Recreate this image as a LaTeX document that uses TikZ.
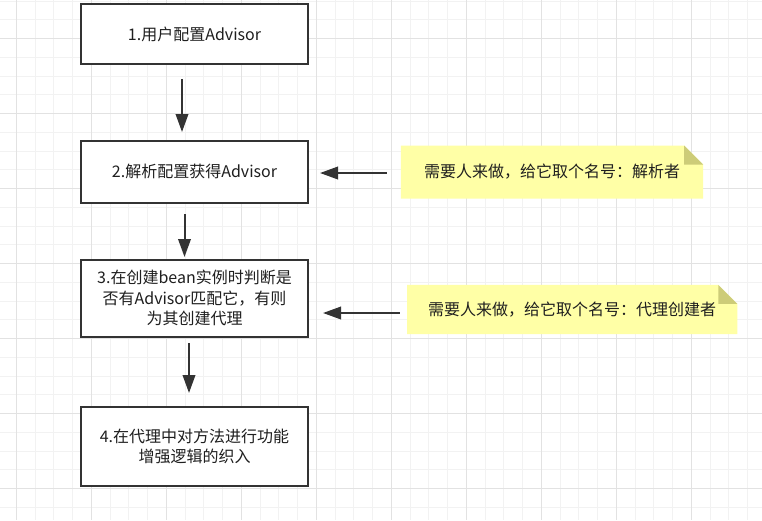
\documentclass[tikz,border=0pt]{standalone}
\usepackage{fontspec}
\setmainfont{Noto Sans CJK SC}
\usetikzlibrary{arrows.meta,positioning,backgrounds}
\definecolor{ink}{HTML}{1F1F1F}
\definecolor{edge}{HTML}{333333}
\definecolor{notefill}{HTML}{FFFFA6}
\definecolor{foldfill}{HTML}{CDCC78}
\definecolor{gridminor}{HTML}{F2F2F2}
\definecolor{gridmajor}{HTML}{E2E2E2}
\tikzset{
  every node/.style={font=\fontsize{16pt}{20.5pt}\selectfont, text=ink},
  stepbox/.style={draw=edge, line width=2pt, fill=white, align=center, minimum width=227pt, inner sep=0pt},
  notebox/.style={align=center, inner sep=0pt},
  arrow/.style={-{Triangle[length=18pt,width=12.5pt]}, line width=2pt, draw=edge},
  minorline/.style={draw=gridminor, line width=1pt},
  majorline/.style={draw=gridmajor, line width=1pt},
}
\newcommand{\notepaper}[1]{%
  \fill[notefill] (#1.north west) -- ([xshift=-19pt]#1.north east) -- ([yshift=-19pt]#1.north east) -- (#1.south east) -- (#1.south west) -- cycle;
  \fill[foldfill] ([xshift=-19pt]#1.north east) |- ([yshift=-19pt]#1.north east) -- cycle;}

\begin{document}
\begin{tikzpicture}[x=1pt, y=-1pt]
\useasboundingbox (0,0) rectangle (762,520);
\begin{scope}[on background layer]
\fill[white] (0,0) rectangle (762,520);
\foreach \i in {0,...,39} \draw[minorline] ({16.3+18.75*\i},0) -- ++(0,520);
\foreach \i in {0,...,27} \draw[minorline] (0,{1.2+18.75*\i}) -- ++(762,0);
\foreach \i in {0,...,9} \draw[majorline] ({16.3+75*\i},0) -- ++(0,520);
\foreach \i in {0,...,6} \draw[majorline] (0,{38.7+75*\i}) -- ++(762,0);
\end{scope}
\node[stepbox, minimum height=60pt] (cfg) at (194.5,34) {1.用户配置Advisor};
\node[stepbox, minimum height=61.5pt, below=75pt of cfg] (parse) {2.解析配置获得Advisor};
\node[stepbox, minimum height=77.5pt, below=55pt of parse] (create) {3.在创建bean实例时判断是\\否有Advisor匹配它，有则\\为其创建代理};
\node[stepbox, minimum height=79pt, below=68pt of create] (weave) {4.在代理中对方法进行功能\\增强逻辑的织入};
\node[notebox, minimum width=302pt, minimum height=52.6pt] (nparse) at (552,172) {需要人来做，给它取个名号：解析者};
\node[notebox, minimum width=329.7pt, minimum height=49pt] (ncreate) at (572.2,309.5) {需要人来做，给它取个名号：代理创建者};
\begin{scope}[on background layer]
\notepaper{nparse}\notepaper{ncreate}
\end{scope}
\draw[arrow, shorten <=14pt, shorten >=8pt] ([xshift=-12.5pt]cfg.south) -- ([xshift=-12.5pt]parse.north);
\draw[arrow, shorten <=10.5pt, shorten >=1.5pt] ([xshift=-10pt]parse.south) -- ([xshift=-10pt]create.north);
\draw[arrow, shorten <=5pt, shorten >=13pt] ([xshift=-5.5pt]create.south) -- ([xshift=-5.5pt]weave.north);
\draw[arrow, shorten <=14pt, shorten >=11pt] ([yshift=-1pt]nparse.west) -- ([yshift=-1pt]nparse.west -| parse.east);
\draw[arrow, shorten <=7.3pt, shorten >=14pt] ([yshift=-3.5pt]ncreate.west) -- ([yshift=-3.5pt]ncreate.west -| create.east);
\end{tikzpicture}
\end{document}
